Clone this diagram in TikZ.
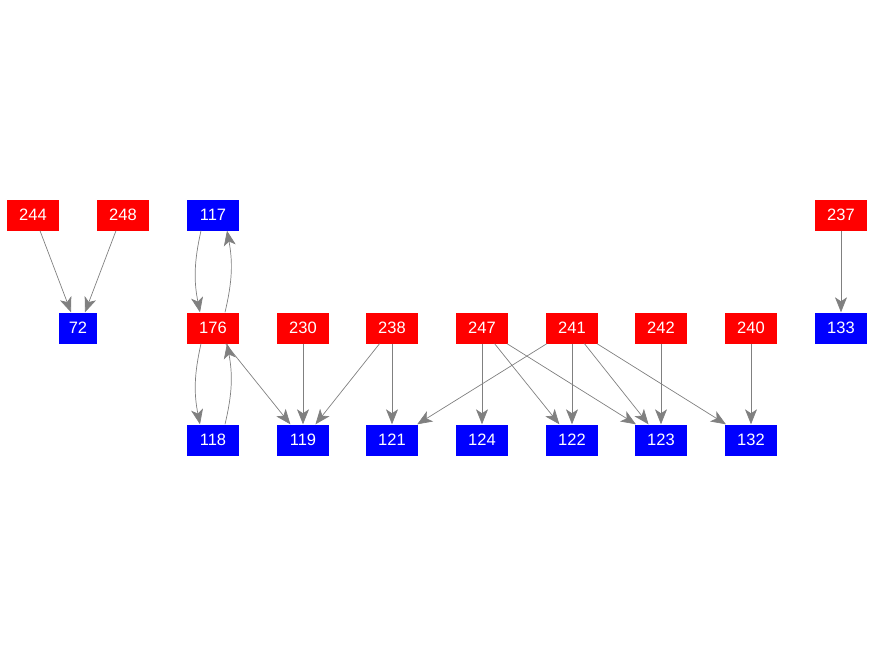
\documentclass[tikz,border=0pt]{standalone}
\usepackage{fontspec}
\setmainfont{Liberation Sans}
\usetikzlibrary{arrows.meta}
\begin{document}
\begin{tikzpicture}[x=1pt,y=-1pt,
  box/.style={minimum width=52pt,minimum height=31pt,inner sep=0pt,text=white,font=\fontsize{16.5}{16.5}\selectfont},
  src/.style={box,fill=red},
  dst/.style={box,fill=blue},
  edge/.style={draw=gray,line width=0.7pt,-{Stealth[length=15pt,width=12pt,inset=4pt,fill=gray]}}]
\useasboundingbox (0,0) rectangle (876,656);
\node[src] (n244) at (33,215) {244};
\node[src] (n248) at (123,215) {248};
\node[dst] (n117) at (213,215) {117};
\node[src] (n237) at (841,215) {237};
\node[dst,minimum width=38pt] (n72) at (78,328) {72};
\node[src] (n176) at (213,328) {176};
\node[src] (n230) at (303,328) {230};
\node[src] (n238) at (392,328) {238};
\node[src] (n247) at (482,328) {247};
\node[src] (n241) at (572,328) {241};
\node[src] (n242) at (661,328) {242};
\node[src] (n240) at (751,328) {240};
\node[dst] (n133) at (841,328) {133};
\node[dst] (n118) at (213,440) {118};
\node[dst] (n119) at (303,440) {119};
\node[dst] (n121) at (392,440) {121};
\node[dst] (n124) at (482,440) {124};
\node[dst] (n122) at (572,440) {122};
\node[dst] (n123) at (661,440) {123};
\node[dst] (n132) at (751,440) {132};
\draw[edge] ([xshift=7pt]n244.south) -- ([xshift=-7pt]n72.north);
\draw[edge] ([xshift=-7pt]n248.south) -- ([xshift=7pt]n72.north);
\draw[edge] ([xshift=-12pt]n117.south) to[bend right=12] ([xshift=-13pt]n176.north);
\draw[edge] ([xshift=12pt]n176.north) to[bend right=12] ([xshift=14pt]n117.south);
\draw[edge] ([xshift=-12pt]n176.south) to[bend right=12] ([xshift=-13pt]n118.north);
\draw[edge] ([xshift=12pt]n118.north) to[bend right=12] ([xshift=14pt]n176.south);
\draw[edge] (n176) -- (n119);
\draw[edge] (n230) -- (n119);
\draw[edge] (n238) -- (n119);
\draw[edge] (n238) -- (n121);
\draw[edge] (n247) -- (n124);
\draw[edge] (n247) -- (n122);
\draw[edge] (n247) -- (n123);
\draw[edge] (n241) -- (n121);
\draw[edge] (n241) -- (n122);
\draw[edge] (n241) -- (n123);
\draw[edge] (n241) -- (n132);
\draw[edge] (n242) -- (n123);
\draw[edge] (n240) -- (n132);
\draw[edge] (n237) -- (n133);
\end{tikzpicture}
\end{document}
